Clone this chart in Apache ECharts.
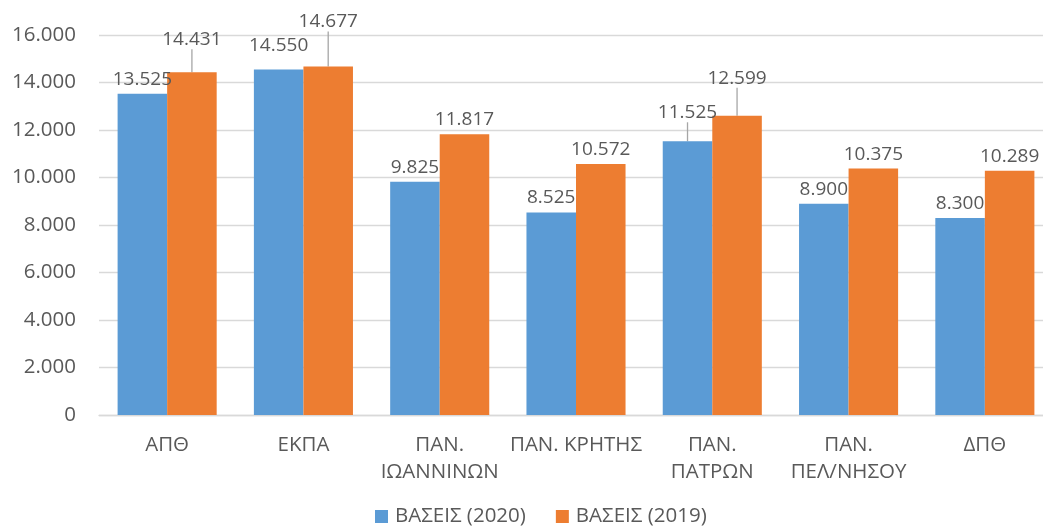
<!DOCTYPE html>
<html>
<head>
<meta charset="utf-8">
<script src="https://cdn.jsdelivr.net/npm/echarts@6/dist/echarts.min.js"></script>
<style>
html,body{margin:0;padding:0;background:#fff;overflow:hidden;width:1043px;height:527px;}
#chart{width:1060px;height:527px;}
</style>
</head>
<body>
<div id="chart"></div>
<script>
const categories = ['ΑΠΘ', 'ΕΚΠΑ', 'ΠΑΝ.\nΙΩΑΝΝΙΝΩΝ', 'ΠΑΝ. ΚΡΗΤΗΣ', 'ΠΑΝ.\nΠΑΤΡΩΝ', 'ΠΑΝ.\nΠΕΛ/ΝΗΣΟΥ', 'ΔΠΘ'];
const seriesNames = ['ΒΑΣΕΙΣ (2020)', 'ΒΑΣΕΙΣ (2019)'];
const values2020 = [13525, 14550, 9825, 8525, 11525, 8900, 8300];
const values2019 = [14431, 14677, 11817, 10572, 12599, 10375, 10289];
const yTicks = [0, 2000, 4000, 6000, 8000, 10000, 12000, 14000, 16000];

// label adjustments (Excel-style moved labels); key: "series-index"
const labelMoves = {
  '1-0': { dy: -18, line: true },
  '0-1': { dy: -9, line: false },
  '1-1': { dy: -30, line: true },
  '0-4': { dy: -14, line: true },
  '1-4': { dy: -23, line: true }
};

const FONT = 'Open Sans';
const TXT = '#595959';

function fmt(v) {
  return String(v).replace(/\B(?=(\d{3})+(?!\d))/g, '.');
}

function buildData(vals, si) {
  return vals.map((v, i) => {
    const m = labelMoves[si + '-' + i];
    return {
      value: v,
      labelLine: { show: !!(m && m.line) }
    };
  });
}

function makeSeries(name, vals, si, color) {
  return {
    name: name,
    type: 'bar',
    data: buildData(vals, si),
    barGap: '0%',
    barCategoryGap: '27.3%',
    itemStyle: { color: color },
    label: {
      show: true,
      position: 'top',
      distance: 5,
      color: TXT,
      fontFamily: FONT,
      fontSize: 19,
      formatter: p => fmt(p.value)
    },
    labelLine: {
      show: false,
      lineStyle: { color: '#a6a6a6', width: 1.3 }
    },
    labelLayout: function (params) {
      const m = labelMoves[params.seriesIndex + '-' + params.dataIndex];
      if (m) return { dy: m.dy };
      return {};
    }
  };
}

const chart = echarts.init(document.getElementById('chart'), null, { renderer: 'canvas' });
chart.setOption({
  animation: false,
  textStyle: { fontFamily: FONT },
  grid: { left: 99, right: 7, top: 35, bottom: 112, containLabel: false },
  legend: {
    top: 501,
    left: 370,
    itemWidth: 13,
    itemHeight: 13,
    itemGap: 30,
    icon: 'rect',
    textStyle: { color: TXT, fontFamily: FONT, fontSize: 20.5, padding: [0, 0, 0, 2] },
    data: seriesNames
  },
  xAxis: {
    type: 'category',
    data: categories,
    axisLine: { lineStyle: { color: '#d9d9d9', width: 1.3 } },
    axisTick: { show: false },
    axisLabel: { color: TXT, fontFamily: FONT, fontSize: 20.5, margin: 17, lineHeight: 27, interval: 0 }
  },
  yAxis: {
    type: 'value',
    min: yTicks[0],
    max: yTicks[yTicks.length - 1],
    interval: 2000,
    axisLine: { show: false },
    axisTick: { show: false },
    splitLine: { lineStyle: { color: '#d9d9d9', width: 1.3 } },
    axisLabel: { color: TXT, fontFamily: FONT, fontSize: 20.5, margin: 23, formatter: v => fmt(v) }
  },
  series: [
    makeSeries(seriesNames[0], values2020, 0, '#5B9BD5'),
    makeSeries(seriesNames[1], values2019, 1, '#ED7D31')
  ]
});
</script>
</body>
</html>
